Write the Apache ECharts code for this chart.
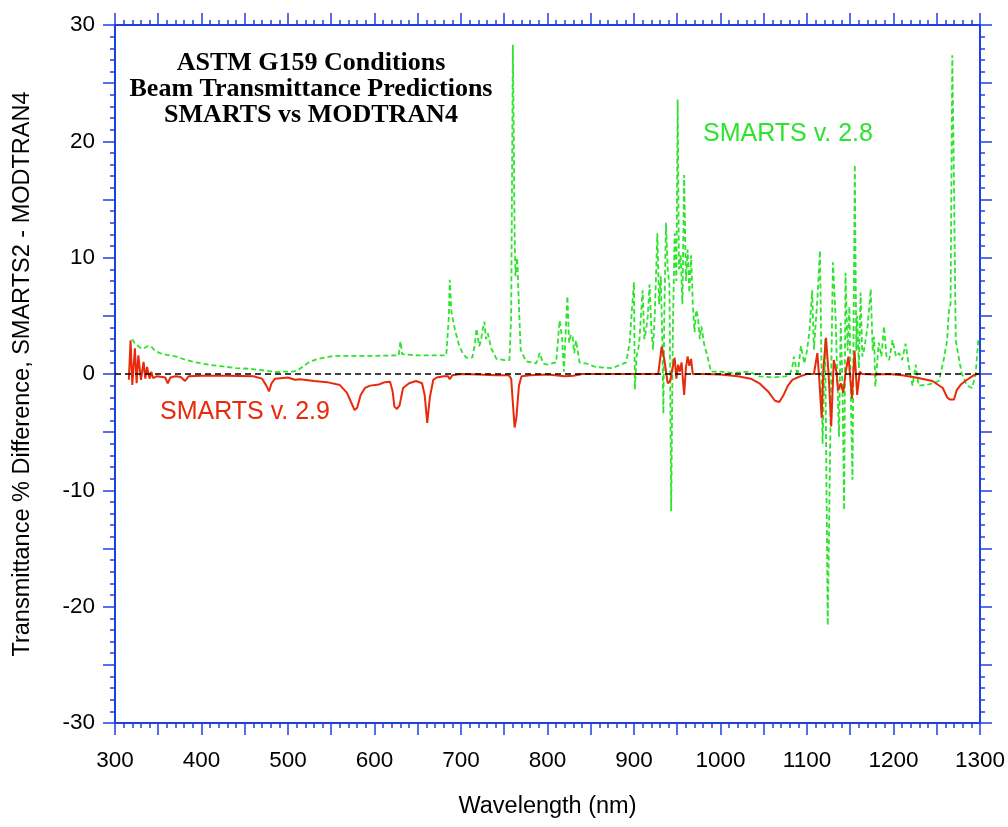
<!DOCTYPE html>
<html>
<head>
<meta charset="utf-8">
<script src="https://cdn.jsdelivr.net/npm/echarts@6/dist/echarts.min.js"></script>
<style>html,body{margin:0;padding:0;background:#fff}#c{width:1008px;height:827px}</style>
</head>
<body>
<div id="c"></div>
<script>
// SMARTS v. 2.9 (red, solid)
var wl29 = [316,318,320,323,325,327,330,333,335,337,340,342,344,348,355,358,361,364,370,376,381,385,400,430,460,470,475,478,481,485,500,508,514,530,545,560,568,574,577,580,584,589,595,605,612,618,621,623,626,629,633,640,648,655,658,661,664,668,672,680,685,687,690,700,720,740,755,758,760,762,764,767,770,780,800,820,822,830,840,900,928,932,935,939,942,944,947,949,951,953,955,958,960,962,964,966,968,980,1000,1020,1035,1045,1055,1063,1068,1073,1078,1083,1092,1100,1108,1112,1114,1117,1119,1122,1125,1128,1131,1134,1136,1139,1142,1145,1148,1152,1155,1158,1161,1164,1180,1195,1210,1226,1245,1257,1262,1265,1270,1273,1278,1283,1293,1297,1300];
var val29 = [-0.5,2.9,-0.95,2.2,-0.8,1.6,-0.5,1.05,-0.4,0.6,-0.4,0.2,-0.35,-0.2,-0.25,-0.3,-0.8,-0.3,-0.2,-0.25,-0.6,-0.2,-0.15,-0.15,-0.2,-0.4,-1.0,-1.5,-0.8,-0.4,-0.3,-0.5,-0.45,-0.6,-0.7,-0.95,-1.6,-2.6,-3.1,-2.9,-1.8,-1.2,-1.0,-0.9,-0.7,-0.66,-1.5,-2.8,-3.0,-2.7,-1.2,-0.8,-0.6,-0.8,-1.8,-4.2,-2.0,-0.5,-0.3,-0.2,-0.2,-0.45,-0.1,0,-0.05,-0.1,-0.1,-0.4,-2.5,-4.6,-3.8,-1.0,-0.2,-0.1,-0.05,-0.2,-0.05,-0.15,0,0,0,2.35,1.3,-0.8,-0.6,0.3,1.4,-0.4,0.8,0.2,1.0,-1.8,0.5,1.5,0.7,1.3,0,0,-0.05,-0.2,-0.4,-0.8,-1.5,-2.3,-2.4,-1.8,-1.0,-0.5,-0.2,0,0,1.8,-0.2,-3.8,0.5,3.1,0,-4.5,1.2,0.2,-1.4,-0.8,-1.6,0.3,1.5,-2.1,2.0,-1.8,0.2,0,-0.05,0,-0.1,-0.3,-0.6,-1.2,-2.0,-2.2,-2.2,-1.4,-0.9,-0.6,-0.1,0,0];

// SMARTS v. 2.8 (green, dashed)
var wl28 = [320,323,327,330,333,338,342,346,352,360,371,380,394,410,425,440,455,467,478,487,495,506,513,521,525,535,552,570,590,610,628,630,632,650,670,683,686,687,689,693,698,702,706,713,716,718,721,723,725,727,729,731,735,741,750,756,758,760,762,763,765,767,769,775,787,791,795,800,810,814,817,819,821,823,825,827,829,831,833,837,845,856,875,891,895,897,900,901,903,906,910,912,914,916,918,920,922,924,927,929,931,933,934,935,937,939,941,943,945,947,949,950.5,952,954,956,958,960,962,964,966,968,970,972,974,976,978,981,985,989,999,1014,1033,1045,1060,1075,1080,1083,1085,1089,1093,1097,1100,1103,1106,1108,1112,1115,1118,1121,1124,1127,1130,1133,1137,1139,1141,1143,1144.5,1147,1149,1151,1152.6,1155.3,1157,1158,1160,1162,1164,1166,1170,1173.7,1176,1177.6,1179,1183,1186,1189,1192,1195,1199,1203,1206.5,1210,1214,1218,1222,1225.7,1229,1241,1252.6,1258,1262,1264,1266,1268,1270,1272,1276,1279,1285,1291,1295,1298,1300];
var val28 = [3.0,2.6,2.4,2.2,2.2,2.4,2.35,2.0,1.8,1.65,1.5,1.25,1.0,0.77,0.65,0.5,0.45,0.35,0.25,0.15,0.2,0.2,0.4,0.83,1.06,1.3,1.55,1.55,1.55,1.58,1.6,2.8,1.7,1.6,1.6,1.6,5.0,8.1,5.3,3.8,2.4,1.8,1.4,1.4,2.5,3.9,2.4,2.8,3.8,4.5,3.0,3.5,2.2,1.3,1.2,1.2,5.0,28.3,12.0,8.4,10.0,5.8,2.1,1.1,0.92,1.8,0.9,0.8,1.0,4.6,3.0,0.2,3.5,6.7,2.7,3.4,3.2,1.8,2.9,1.0,0.9,0.6,0.5,1.0,2.7,4.9,7.9,-1.3,1.5,2.6,7.2,3.0,3.8,5.0,7.7,4.0,2.1,5.0,12.1,6.0,8.4,2.0,-3.4,5.0,13.0,9.0,7.6,-11.8,4.0,12.1,8.0,23.6,9.0,10.2,6.0,17.1,8.0,10.7,7.0,10.2,6.0,3.6,5.5,4.9,3.0,4.1,2.6,1.5,0.2,0.2,0.1,0.2,-0.2,-0.3,-0.2,-0.1,0.6,1.5,-0.2,2.4,0.9,2.0,3.8,7.2,2.1,6.4,10.6,-6.0,3.0,-21.6,-5.0,9.6,5.0,-5.4,4.4,-1.0,-11.7,8.7,2.0,5.8,-3.0,-9.1,18.0,2.0,5.0,0.5,7.0,1.5,2.1,4.0,7.3,2.0,3.2,-1.1,2.7,1.5,4.1,1.5,1.2,2.9,1.5,1.8,1.2,2.6,0.6,-1.0,0.8,-1.0,-0.9,-0.6,1.2,2.9,5.4,6.0,27.4,16.0,2.9,1.2,0,-1.0,-1.2,0,2.9,3.0];

var xTickLabels = [300,400,500,600,700,800,900,1000,1100,1200,1300];
var yTickLabels = [-30,-20,-10,0,10,20,30];

function zip(a, b) { return a.map(function (x, i) { return [x, b[i]]; }); }

var BLUE = '#1f3fe6';
var GREEN = '#2de32d';
var RED = '#e82a0c';
var FONT = '"Liberation Sans", Arial, Helvetica, sans-serif';

function xAx(pos, showLabel) {
  return {
    type: 'value', min: 300, max: 1300, interval: 50, position: pos,
    axisLine: { show: true, onZero: false, lineStyle: { color: BLUE, width: 2 } },
    axisTick: { show: true, length: 12, lineStyle: { color: BLUE, width: 1.5 } },
    minorTick: { show: true, splitNumber: 5, length: 5, lineStyle: { color: BLUE, width: 1.5 } },
    splitLine: { show: false }, minorSplitLine: { show: false },
    axisLabel: {
      show: showLabel, margin: 26, color: '#000', fontSize: 22.5, fontFamily: FONT,
      formatter: function (v) { return xTickLabels.indexOf(v) >= 0 ? String(v) : ''; }
    },
    name: showLabel ? 'Wavelength (nm)' : '', nameLocation: 'middle', nameGap: 72,
    nameTextStyle: { color: '#000', fontSize: 23.5, fontFamily: FONT }
  };
}
function yAx(pos, showLabel) {
  return {
    type: 'value', min: -30, max: 30, interval: 5, position: pos,
    axisLine: { show: true, onZero: false, lineStyle: { color: BLUE, width: 2 } },
    axisTick: { show: true, length: 12, lineStyle: { color: BLUE, width: 1.5 } },
    minorTick: { show: true, splitNumber: 5, length: 5, lineStyle: { color: BLUE, width: 1.5 } },
    splitLine: { show: false }, minorSplitLine: { show: false },
    axisLabel: {
      show: showLabel, margin: 20, color: '#000', fontSize: 22.5, fontFamily: FONT,
      formatter: function (v) { return yTickLabels.indexOf(v) >= 0 ? String(v) : ''; }
    },
    name: showLabel ? 'Transmittance % Difference, SMARTS2 - MODTRAN4' : '', nameLocation: 'middle', nameGap: 80,
    nameTextStyle: { color: '#000', fontSize: 23.5, fontFamily: FONT }
  };
}

var chart = echarts.init(document.getElementById('c'), null, { renderer: 'canvas' });
chart.setOption({
  animation: false,
  backgroundColor: '#fff',
  grid: { left: 115, right: 27, top: 25, bottom: 104 },
  xAxis: [xAx('bottom', true), xAx('top', false)],
  yAxis: [yAx('left', true), yAx('right', false)],
  series: [
    { name: 'SMARTS v. 2.8', type: 'line', xAxisIndex: 0, yAxisIndex: 0, showSymbol: false, z: 2,
      data: zip(wl28, val28), lineStyle: { color: GREEN, width: 1.8, type: [5, 3] } },
    { name: 'SMARTS v. 2.9', type: 'line', xAxisIndex: 0, yAxisIndex: 0, showSymbol: false, z: 3,
      data: zip(wl29, val29), lineStyle: { color: RED, width: 2 } },
    { name: 'zero', type: 'line', xAxisIndex: 0, yAxisIndex: 0, showSymbol: false, z: 4,
      data: [[300, 0], [1300, 0]], lineStyle: { color: '#000', width: 1.5, type: [6, 4] } }
  ],
  graphic: [
    { type: 'text', x: 311, y: 50, z: 10,
      style: { text: 'ASTM G159 Conditions\nBeam Transmittance Predictions\nSMARTS vs MODTRAN4',
        font: 'bold 26px "Liberation Serif", "Times New Roman", serif', fill: '#000', textAlign: 'center', lineHeight: 26 } },
    { type: 'text', x: 703, y: 134, z: 10,
      style: { text: 'SMARTS v. 2.8', font: '25px ' + FONT, fill: GREEN, textVerticalAlign: 'middle' } },
    { type: 'text', x: 160, y: 412, z: 10,
      style: { text: 'SMARTS v. 2.9', font: '25px ' + FONT, fill: RED, textVerticalAlign: 'middle' } }
  ]
});
</script>
</body>
</html>
